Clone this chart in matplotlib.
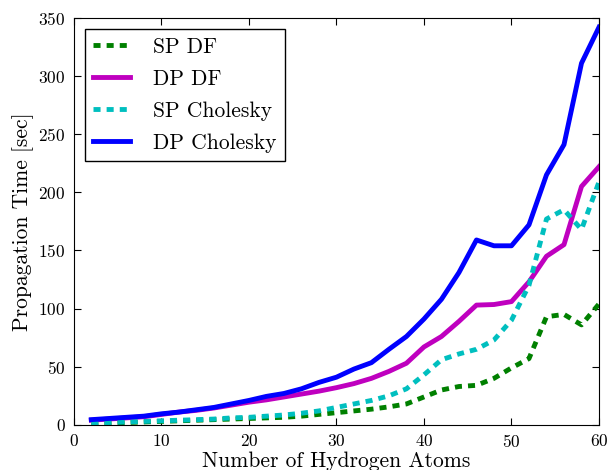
import numpy as np
import matplotlib
matplotlib.use("Agg")
import matplotlib.pyplot as plt

plt.rcParams['font.family'] = 'serif'
plt.rcParams['font.serif'] = ['cmr10', 'DejaVu Serif']
plt.rcParams['mathtext.fontset'] = 'cm'
plt.rcParams['axes.formatter.use_mathtext'] = True

# number of hydrogen atoms
n_atoms = list(range(2, 61, 2))

# propagation times [sec]
sp_df = [1, 1.5, 2, 2.5, 3, 3.5, 4, 4.5, 5, 5.5, 6, 6.5, 7.5, 9, 10.5,
         12, 13.5, 15.5, 18, 24, 30, 33, 34, 40, 49, 57, 93, 95, 86, 104]
dp_df = [4, 5, 6, 7, 9, 11, 12.5, 14.5, 17, 19.5, 21.5, 24, 26.5, 29, 32,
         35.5, 40, 46, 53, 67, 76, 89, 103, 103.5, 106, 123, 145, 155, 205, 222]
sp_chol = [1.5, 2, 2.5, 3, 3.5, 4, 4.5, 5, 6, 6.5, 7.5, 8.5, 10, 12, 15,
           18, 21, 25, 31, 43, 56, 61, 65, 73, 90, 120, 177, 185, 168, 209]
dp_chol = [4.5, 5.5, 6.5, 7.5, 9.5, 11, 13, 15, 18, 21, 24.5, 27, 31, 36.5, 41,
           48, 53.5, 65, 76, 91, 108, 131, 159, 154, 154, 172, 215, 241, 311, 342]

fig = plt.figure(figsize=(6.15, 4.70), dpi=100)
ax = fig.add_axes([0.120, 0.096, 0.854, 0.866])

lw = 3.5
dash = (1.45, 1.25)  # in units of line width
ax.plot(n_atoms, sp_df, color='g', lw=lw, dashes=dash, label="SP DF")
ax.plot(n_atoms, dp_df, color='m', lw=lw, label="DP DF")
ax.plot(n_atoms, sp_chol, color='c', lw=lw, dashes=dash, label="SP Cholesky")
ax.plot(n_atoms, dp_chol, color='b', lw=lw, label="DP Cholesky")

ax.set_xlim(0, 60)
ax.set_ylim(0, 350)
ax.set_xticks(np.arange(0, 61, 10))
ax.set_yticks(np.arange(0, 351, 50))
ax.tick_params(direction='in', top=True, right=True, length=5, labelsize=12.5, pad=6)
ax.set_xlabel("Number of Hydrogen Atoms", fontsize=15.5, labelpad=1)
ax.set_ylabel("Propagation Time [sec]", fontsize=15.5, labelpad=3)

leg = ax.legend(loc='upper left', fontsize=15.5, fancybox=False, framealpha=1,
                edgecolor='black', borderaxespad=0.5, handlelength=1.7,
                handletextpad=1.1, labelspacing=0.58)
leg.get_frame().set_linewidth(1.0)

fig.savefig("out.png", dpi=100)
